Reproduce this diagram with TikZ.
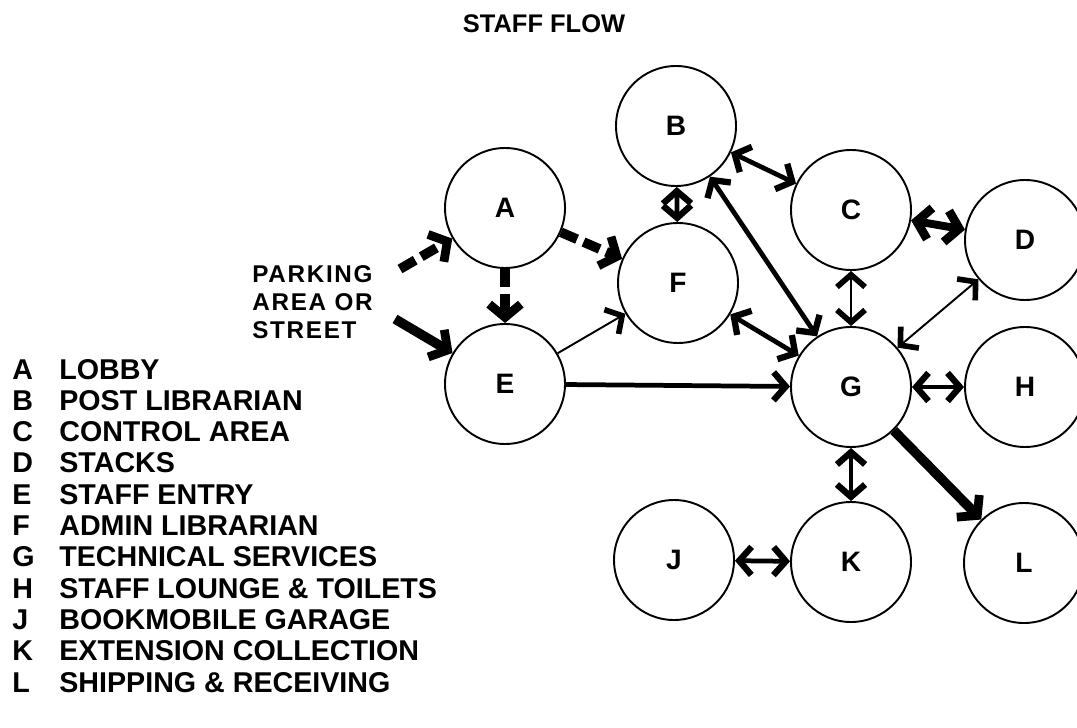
\documentclass[tikz,border=0pt]{standalone}
\usepackage{fontspec}
\setmainfont{Liberation Sans}
\usepackage{tikz}
\usetikzlibrary{arrows.meta,positioning}

\begin{document}
\begin{tikzpicture}[
  room/.style  ={circle,draw,line width=1.1pt,minimum size=2.4cm,inner sep=0pt,
                 font=\fontsize{16}{16}\selectfont\bfseries},
  legend/.style={inner sep=0pt,anchor=base west,font=\fontsize{16.3}{16.3}\selectfont\bfseries},
  under/.style ={below=0.626cm of #1.base west,anchor=base west},
  light/.style ={line width=1.1pt,>={Straight Barb[length=7pt,width=16pt,line width'=3.2pt]}},
  link/.style  ={line width=2.7pt,>={Straight Barb[length=7pt,width=16pt,line width'=3.6pt]}},
  heavy/.style ={line width=5.5pt,>={Straight Barb[length=7.5pt,width=18pt,line width'=5pt]}},
  heavydash/.style={heavy,dash pattern=on 10pt off 4pt},
]
\useasboundingbox (0,0) rectangle (21.54,14.54);

\node[font=\fontsize{14.5}{14.5}\selectfont\bfseries] (title) at (10.88,14.06) {STAFF FLOW};

% rooms
\node[room] (A) at (10.10,10.38) {A};
\node[room] (B) at (13.52,12.02) {B};
\node[room] (C) at (17.02,10.34) {C};
\node[room] (D) at (20.50,9.74)  {D};
\node[room] (E) at (10.10,6.86)  {E};
\node[room] (F) at (13.56,8.88)  {F};
\node[room] (G) at (17.02,6.80)  {G};
\node[room] (H) at (20.50,6.80)  {H};
\node[room] (J) at (13.48,3.34)  {J};
\node[room] (K) at (17.02,3.30)  {K};
\node[room] (L) at (20.48,3.28)  {L};

\node[align=left,anchor=west,inner sep=0pt,
      font=\fontsize{13.8}{15.9}\selectfont\bfseries\addfontfeature{LetterSpace=7}]
      (park) at (5.04,8.5) {PARKING\\AREA OR\\STREET};
\coordinate (pa) at (8.00,9.16);
\coordinate (pe) at (7.90,8.16);

% flows
\draw[heavydash,->] (pa) -- (A);
\draw[heavy,->]     (pe) -- (E);
\draw[heavydash,->] (A) -- (E);
\draw[heavydash,->] (A) -- (F);
\draw[light,->]     (E) -- (F);
\draw[link,->]      (E) -- (G);
\draw[link,<->]     (B) -- (F);
\draw[link,<->]     (B) -- (C);
\draw[link,<->]     (B) -- (G);
\draw[link,<->]     (F) -- (G);
\draw[heavy,line width=4.5pt,<->] (C) -- (D);
\draw[light,<->]    (C) -- (G);
\draw[light,<->]    (G) -- (D);
\draw[link,<->]     (G) -- (H);
\draw[link,<->]     (G) -- (K);
\draw[heavy,->]     (G) -- (L);
\draw[link,<->]     (J) -- (K);

% key
\node[legend] (lA) at (0.24,6.96) {\makebox[0.94cm][l]{A}LOBBY};
\node[legend,under=lA] (lB) {\makebox[0.94cm][l]{B}POST LIBRARIAN};
\node[legend,under=lB] (lC) {\makebox[0.94cm][l]{C}CONTROL AREA};
\node[legend,under=lC] (lD) {\makebox[0.94cm][l]{D}STACKS};
\node[legend,under=lD] (lE) {\makebox[0.94cm][l]{E}STAFF ENTRY};
\node[legend,under=lE] (lF) {\makebox[0.94cm][l]{F}ADMIN LIBRARIAN};
\node[legend,under=lF] (lG) {\makebox[0.94cm][l]{G}TECHNICAL SERVICES};
\node[legend,under=lG] (lH) {\makebox[0.94cm][l]{H}STAFF LOUNGE \& TOILETS};
\node[legend,under=lH] (lJ) {\makebox[0.94cm][l]{J}BOOKMOBILE GARAGE};
\node[legend,under=lJ] (lK) {\makebox[0.94cm][l]{K}EXTENSION COLLECTION};
\node[legend,under=lK] (lL) {\makebox[0.94cm][l]{L}SHIPPING \& RECEIVING};
\end{tikzpicture}
\end{document}
